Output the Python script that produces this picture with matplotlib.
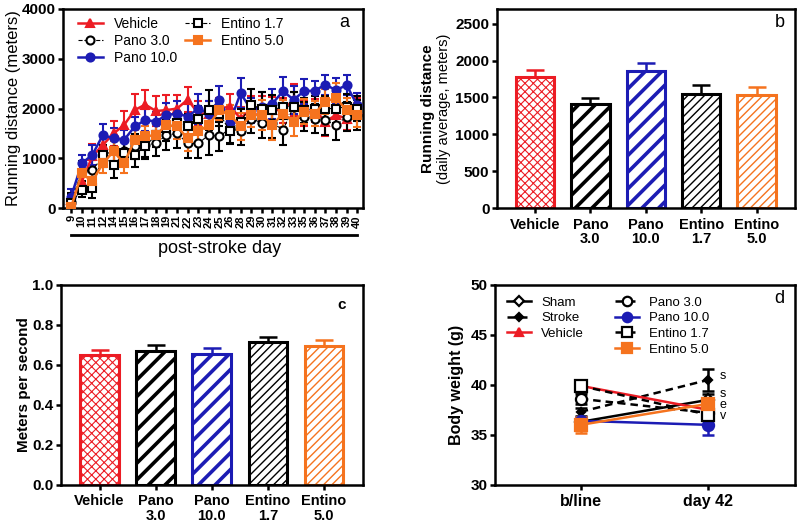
import numpy as np
import matplotlib
matplotlib.use("Agg")
import matplotlib.pyplot as plt

plt.rcParams["font.family"] = ["Liberation Sans", "DejaVu Sans"]
plt.rcParams["axes.linewidth"] = 1.8

RED = "#ec1c24"
BLUE = "#1c1cb4"
ORANGE = "#f5731e"
BLACK = "black"

# Panel a: daily running distance
days = ["9", "10", "11", "12", "14", "15", "16", "17", "18", "19", "21", "22", "23", "24",
        "25", "26", "28", "29", "30", "31", "32", "33", "35", "36", "37", "38", "39", "40"]
vehicle = [170, 535, 1040, 1270, 1500, 1670, 1970, 2080, 1950, 1970, 2000, 2180, 1900, 1900,
           2000, 2040, 1800, 2000, 2000, 1970, 1970, 2180, 1900, 1970, 1740, 1870, 1800, 2000]
vehicle_err = [120, 150, 250, 200, 250, 280, 320, 300, 300, 300, 280, 250, 250, 250,
               220, 260, 240, 260, 250, 260, 250, 320, 250, 230, 300, 250, 240, 220]
pano3 = [130, 740, 760, 1040, 1170, 1140, 1240, 1270, 1300, 1470, 1500, 1300, 1300, 1470,
         1440, 1600, 1540, 1800, 1710, 1710, 1570, 2040, 1840, 1800, 1770, 1660, 1840, 1870]
pano3_err = [150, 200, 200, 220, 250, 250, 250, 250, 250, 300, 300, 300, 300, 400,
             300, 300, 280, 300, 300, 300, 300, 300, 300, 300, 300, 300, 300, 300]
pano10 = [230, 900, 1070, 1470, 1400, 1370, 1640, 1770, 1740, 1870, 1900, 1840, 2000, 1900,
          2180, 1740, 2310, 1970, 2040, 2100, 2350, 2180, 2350, 2360, 2480, 2370, 2470, 2070]
pano10_err = [150, 170, 200, 230, 200, 200, 200, 220, 200, 250, 250, 250, 300, 250,
              280, 250, 300, 250, 300, 300, 280, 280, 250, 200, 200, 250, 200, 250]
entino17 = [100, 370, 400, 1070, 860, 1100, 1070, 1240, 1470, 1600, 1710, 1640, 1800, 1970,
            1900, 1540, 1740, 2070, 2000, 1970, 2040, 2040, 1970, 2000, 2000, 2000, 2040, 2000]
entino17_err = [200, 150, 200, 200, 250, 250, 250, 250, 250, 250, 250, 250, 250, 400,
                250, 250, 250, 330, 330, 300, 250, 300, 250, 250, 250, 280, 250, 250]
entino5 = [20, 700, 540, 900, 1140, 900, 1370, 1440, 1470, 1670, 1640, 1400, 1540, 1670,
           1970, 1870, 1640, 1870, 1870, 1670, 1900, 1740, 1940, 1900, 2140, 2210, 1970, 1870]
entino5_err = [100, 200, 180, 200, 200, 200, 200, 200, 200, 200, 250, 250, 250, 250,
               200, 200, 280, 250, 300, 300, 280, 300, 250, 250, 250, 300, 250, 250]

# Panels b and c: group summaries
groups = ["Vehicle", "Pano\n3.0", "Pano\n10.0", "Entino\n1.7", "Entino\n5.0"]
daily_avg = [1780, 1410, 1855, 1550, 1530]
daily_avg_err = [95, 85, 110, 115, 110]
speed = [0.650, 0.670, 0.655, 0.712, 0.692]
speed_err = [0.025, 0.028, 0.027, 0.025, 0.030]

# Panel d: body weight
timepoints = ["b/line", "day 42"]
bw_sham = [36.3, 38.5]
bw_sham_err = [0.3, 0.6]
bw_stroke = [37.3, 40.5]
bw_stroke_err = [0.4, 1.1]
bw_vehicle = [39.9, 37.5]
bw_vehicle_err = [0.4, 0.5]
bw_pano3 = [38.6, 37.2]
bw_pano3_err = [0.5, 0.5]
bw_pano10 = [36.4, 36.0]
bw_pano10_err = [0.4, 1.0]
bw_entino17 = [39.9, 37.0]
bw_entino17_err = [0.6, 0.5]
bw_entino5 = [36.0, 38.1]
bw_entino5_err = [0.8, 0.5]
sig_labels = ["s", "s", "e", "v"]
sig_y = [40.9, 39.1, 38.0, 36.9]

bar_colors = [RED, BLACK, BLUE, BLACK, ORANGE]
bar_hatches = ["xxxx", "//", "//", "////", "////"]
hatch_lws = [0.8, 2.6, 2.6, 1.0, 1.0]

fig = plt.figure(figsize=(8, 5.27), dpi=100)
ax_a = fig.add_axes([0.079, 0.605, 0.375, 0.378])
ax_b = fig.add_axes([0.621, 0.605, 0.3725, 0.378])
ax_c = fig.add_axes([0.076, 0.080, 0.3775, 0.3795])
ax_d = fig.add_axes([0.619, 0.080, 0.375, 0.3795])

for ax in (ax_a, ax_b, ax_c, ax_d):
    ax.tick_params(width=1.8, length=3.8, pad=1.5, direction="out", labelsize=11)


def bold_ticks(ax):
    for lbl in ax.get_yticklabels() + ax.get_xticklabels():
        lbl.set_fontweight("bold")


# ---- panel a
x = np.arange(len(days))
series_a = [
    ("Vehicle", vehicle, vehicle_err, dict(color=RED, marker="^", mfc=RED, ls="-", lw=1.8)),
    ("Pano 3.0", pano3, pano3_err, dict(color=BLACK, marker="o", mfc="white", ls="--", lw=0.8)),
    ("Pano 10.0", pano10, pano10_err, dict(color=BLUE, marker="o", mfc=BLUE, ls="-", lw=1.8)),
    ("Entino 1.7", entino17, entino17_err, dict(color=BLACK, marker="s", mfc="white", ls="--", lw=0.8)),
    ("Entino 5.0", entino5, entino5_err, dict(color=ORANGE, marker="s", mfc=ORANGE, ls="-", lw=1.8)),
]
order = [1, 3, 2, 4, 0]
handles = {}
for i in order:
    name, y, err, st = series_a[i]
    ax_a.errorbar(x, y, yerr=err, color=st["color"], ecolor=st["color"], elinewidth=1.5,
                  capsize=3, capthick=1.5, ls="none", zorder=2 + i * 0.1)
    (h,) = ax_a.plot(x, y, color=st["color"], ls=st["ls"], lw=st["lw"], marker=st["marker"],
                     mfc=st["mfc"], mec=st["color"], mew=1.5, ms=5.8, zorder=3 + i * 0.1)
    handles[name] = h
ax_a.set_xlim(-0.75, len(days) - 0.43)
ax_a.set_ylim(0, 4000)
ax_a.set_yticks([0, 1000, 2000, 3000, 4000])
ax_a.set_xticks(x)
ax_a.set_xticklabels(days, rotation=90, fontsize=8)
ax_a.tick_params(axis="x", length=3.5, pad=1.5)
bold_ticks(ax_a)
ax_a.set_ylabel("Running distance (meters)", fontsize=12)
ax_a.yaxis.set_label_coords(-0.14, 0.5)
ax_a.plot([0, len(days) - 1], [-0.135, -0.135], color="black", lw=2,
          transform=ax_a.get_xaxis_transform(), clip_on=False)
ax_a.text(0.52, -0.2, "post-stroke day", transform=ax_a.transAxes, ha="center", va="center",
          fontsize=13)
names_a = ["Vehicle", "Pano 3.0", "Pano 10.0", "Entino 1.7", "Entino 5.0"]
ax_a.legend([handles[n] for n in names_a], names_a, ncol=2, loc="upper left", frameon=False,
            fontsize=10, handlelength=1.8, handletextpad=0.8, columnspacing=0.6,
            labelspacing=0.2, borderaxespad=0.2, bbox_to_anchor=(0.02, 1.0))
ax_a.text(0.955, 0.93, "a", transform=ax_a.transAxes, ha="right", va="center", fontsize=13)


def bar_panel(ax, values, errs):
    xb = np.arange(len(groups))
    for i, (v, e) in enumerate(zip(values, errs)):
        ax.errorbar(xb[i], v, yerr=[[0], [e]], color=bar_colors[i], elinewidth=1.8,
                    capsize=6.5, capthick=1.8, zorder=1)
        with plt.rc_context({"hatch.linewidth": hatch_lws[i]}):
            b = ax.bar(xb[i], v, width=0.69, color="white", edgecolor=bar_colors[i],
                       hatch=bar_hatches[i], linewidth=2.2, zorder=2)
        for p in b:
            try:
                p.set_hatch_linewidth(hatch_lws[i])
            except AttributeError:
                pass
    ax.set_xlim(-0.69, len(groups) - 0.31)
    ax.set_xticks(xb)
    ax.set_xticklabels(groups, fontsize=10.5, linespacing=1.05)
    ax.tick_params(axis="x", pad=3)


# ---- panel b
bar_panel(ax_b, daily_avg, daily_avg_err)
ax_b.set_ylim(0, 2700)
ax_b.set_yticks([0, 500, 1000, 1500, 2000, 2500])
bold_ticks(ax_b)
ax_b.text(-0.23, 0.5, "Running distance", transform=ax_b.transAxes, rotation=90,
          ha="center", va="center", fontsize=11, fontweight="bold")
ax_b.text(-0.178, 0.5, "(daily average, meters)", transform=ax_b.transAxes, rotation=90,
          ha="center", va="center", fontsize=10.5)
ax_b.text(0.965, 0.93, "b", transform=ax_b.transAxes, ha="right", va="center", fontsize=13)

# ---- panel c
bar_panel(ax_c, speed, speed_err)
ax_c.set_ylim(0, 1.0)
ax_c.set_yticks([0.0, 0.2, 0.4, 0.6, 0.8, 1.0])
ax_c.set_yticklabels(["0.0", "0.2", "0.4", "0.6", "0.8", "1.0"])
bold_ticks(ax_c)
ax_c.set_ylabel("Meters per second", fontsize=11, fontweight="bold")
ax_c.yaxis.set_label_coords(-0.10, 0.5)
ax_c.text(0.945, 0.9, "c", transform=ax_c.transAxes, ha="right", va="center", fontsize=11,
          fontweight="bold")

# ---- panel d
xd = np.arange(len(timepoints))
series_d = [
    ("Sham", bw_sham, bw_sham_err, dict(color=BLACK, marker="D", mfc="white", ls="-", ms=6)),
    ("Stroke", bw_stroke, bw_stroke_err, dict(color=BLACK, marker="D", mfc=BLACK, ls="--", ms=4.5)),
    ("Vehicle", bw_vehicle, bw_vehicle_err, dict(color=RED, marker="^", mfc=RED, ls="-", ms=7)),
    ("Pano 3.0", bw_pano3, bw_pano3_err, dict(color=BLACK, marker="o", mfc="white", ls="--", ms=8)),
    ("Pano 10.0", bw_pano10, bw_pano10_err, dict(color=BLUE, marker="o", mfc=BLUE, ls="-", ms=8)),
    ("Entino 1.7", bw_entino17, bw_entino17_err, dict(color=BLACK, marker="s", mfc="white", ls="--", ms=8)),
    ("Entino 5.0", bw_entino5, bw_entino5_err, dict(color=ORANGE, marker="s", mfc=ORANGE, ls="-", ms=8)),
]
dh = {}
for i, (name, y, err, st) in enumerate(series_d):
    ax_d.errorbar(xd, y, yerr=err, color=st["color"], elinewidth=1.8, capsize=4.5, capthick=1.8,
                  ls="none", zorder=2)
    (h,) = ax_d.plot(xd, y, color=st["color"], ls=st["ls"], lw=1.8, marker=st["marker"],
                     mfc=st["mfc"], mec=st["color"], mew=1.6, ms=st["ms"], zorder=3)
    if st["ls"] == "--":
        h.set_dashes((3, 2))
    dh[name] = h
ax_d.set_xlim(-0.67, 1.68)
ax_d.set_ylim(30, 50)
ax_d.set_yticks([30, 35, 40, 45, 50])
ax_d.set_xticks(xd)
ax_d.set_xticklabels(timepoints, fontsize=11.5)
ax_d.tick_params(axis="x", pad=3)
bold_ticks(ax_d)
ax_d.set_ylabel("Body weight (g)", fontsize=11.5, fontweight="bold")
ax_d.yaxis.set_label_coords(-0.103, 0.5)
for s, yv in zip(sig_labels, sig_y):
    ax_d.text(xd[1] + 0.09, yv, s, ha="left", va="center", fontsize=9)
col1 = ["Sham", "Stroke", "Vehicle"]
col2 = ["Pano 3.0", "Pano 10.0", "Entino 1.7", "Entino 5.0"]
leg_kw = dict(loc="upper left", frameon=False, fontsize=9.5, handlelength=1.8,
              handletextpad=0.8, labelspacing=0.25, markerscale=0.85)
l1 = ax_d.legend([dh[n] for n in col1], col1, bbox_to_anchor=(0.0, 1.0), **leg_kw)
ax_d.add_artist(l1)
ax_d.legend([dh[n] for n in col2], col2, bbox_to_anchor=(0.36, 1.0), **leg_kw)
ax_d.text(0.965, 0.93, "d", transform=ax_d.transAxes, ha="right", va="center", fontsize=13)

fig.savefig("out.png", dpi=100)
